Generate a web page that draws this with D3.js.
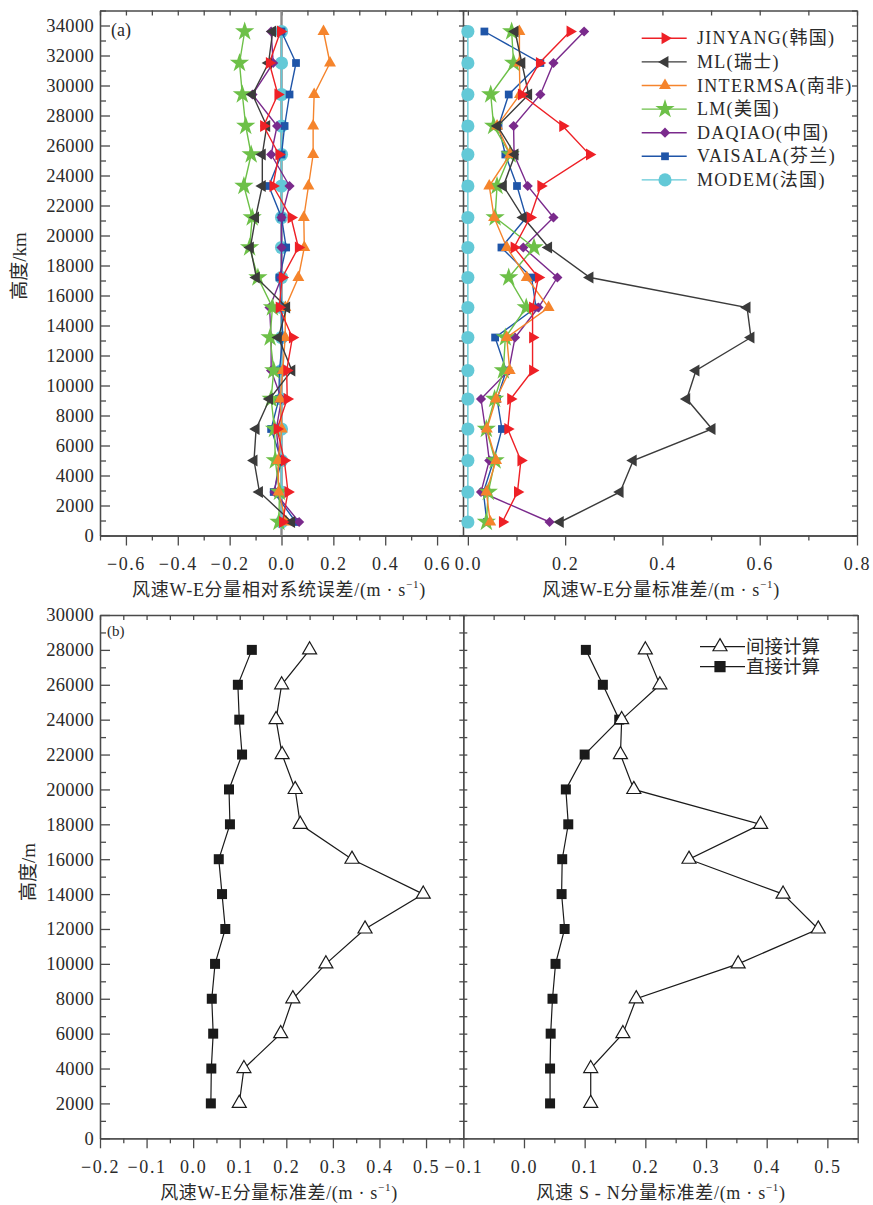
<!DOCTYPE html>
<html>
<head>
<meta charset="utf-8">
<script src="https://cdn.jsdelivr.net/npm/d3@7"></script>
<style>
  body { margin: 0; background: #fff; }
  text { font-family: "Liberation Serif", "Noto Sans CJK SC", serif; fill: #2a2a2a; }
</style>
</head>
<body>
<svg id="chart" width="873" height="1205"></svg>
<script>
// ======= DATA =======

// (a) heights of the sounding levels, m
const heightsA = [900, 2900, 5000, 7100, 9100, 11000, 13200, 15200, 17200, 19200, 21200, 23300, 25400, 27300, 29400, 31500, 33600]

const sondes = ['JINYANG(韩国)', 'ML(瑞士)', 'INTERMSA(南非)', 'LM(美国)', 'DAQIAO(中国)', 'VAISALA(芬兰)', 'MODEM(法国)']

// relative systematic error of the W-E component
const relJinyang = [0.004, 0.025, 0.011, -0.017, 0.022, 0.020, 0.042, -0.009, 0.003, 0.065, 0.037, -0.033, -0.010, -0.069, -0.014, -0.047, -0.004]
const relMl = [0.039, -0.085, -0.106, -0.098, -0.046, 0.040, -0.012, 0.020, -0.097, -0.120, -0.100, -0.074, -0.074, -0.057, -0.112, -0.050, -0.034]
const relIntermsa = [0.018, -0.011, -0.013, 0.001, -0.005, 0.005, 0.014, 0.015, 0.065, 0.088, 0.086, 0.104, 0.122, 0.122, 0.126, 0.187, 0.162]
const relLm = [-0.010, -0.008, -0.024, -0.027, -0.040, -0.030, -0.044, -0.035, -0.091, -0.123, -0.113, -0.145, -0.117, -0.138, -0.151, -0.162, -0.142]
const relDaqiao = [0.068, -0.027, -0.008, -0.020, 0.000, -0.040, -0.040, -0.046, 0.000, 0.000, 0.000, 0.031, -0.040, -0.017, -0.112, -0.032, -0.040]
const relVaisala = [0.055, -0.030, 0.000, -0.040, -0.010, -0.008, 0.005, 0.000, -0.008, 0.018, 0.000, -0.049, 0.000, 0.012, 0.031, 0.056, 0.000]
const relModem = [0, 0, 0, 0, 0, 0, 0, 0, 0, 0, 0, 0, 0, 0, 0, 0, 0]

// standard deviation of the W-E component
const stdJinyang = [0.071, 0.102, 0.109, 0.082, 0.088, 0.133, 0.133, 0.133, 0.145, 0.095, 0.128, 0.150, 0.250, 0.195, 0.110, 0.147, 0.210]
const stdMl = [0.190, 0.313, 0.340, 0.502, 0.450, 0.469, 0.582, 0.574, 0.251, 0.166, 0.114, 0.073, 0.097, 0.061, 0.125, 0.111, 0.097]
const stdIntermsa = [0.046, 0.038, 0.058, 0.039, 0.058, 0.086, 0.080, 0.166, 0.121, 0.080, 0.054, 0.044, 0.087, 0.060, 0.107, 0.106, 0.106]
const stdLm = [0.038, 0.042, 0.056, 0.038, 0.055, 0.073, 0.077, 0.120, 0.084, 0.136, 0.056, 0.060, 0.087, 0.053, 0.047, 0.094, 0.090]
const stdDaqiao = [0.168, 0.027, 0.044, 0.036, 0.027, 0.084, 0.097, 0.145, 0.184, 0.114, 0.176, 0.123, 0.095, 0.094, 0.149, 0.176, 0.239]
const stdVaisala = [0.039, 0.032, 0.053, 0.070, 0.060, 0.079, 0.056, 0.140, 0.131, 0.069, 0.120, 0.101, 0.077, 0.063, 0.084, 0.149, 0.034]
const stdModem = [0, 0, 0, 0, 0, 0, 0, 0, 0, 0, 0, 0, 0, 0, 0, 0, 0]

// (b) heights, m
const heightsB = [2000, 4000, 6000, 8000, 10000, 12000, 14000, 16000, 18000, 20000, 22000, 24000, 26000, 28000]
const methods = ['间接计算', '直接计算']

const weIndirect = [0.099, 0.109, 0.188, 0.214, 0.285, 0.369, 0.494, 0.341, 0.230, 0.219, 0.191, 0.178, 0.190, 0.250]
const weDirect = [0.038, 0.039, 0.043, 0.040, 0.047, 0.069, 0.062, 0.055, 0.079, 0.077, 0.105, 0.099, 0.096, 0.126]
const snIndirect = [0.110, 0.110, 0.163, 0.185, 0.353, 0.485, 0.427, 0.272, 0.390, 0.181, 0.159, 0.161, 0.224, 0.200]
const snDirect = [0.043, 0.043, 0.044, 0.047, 0.052, 0.067, 0.062, 0.063, 0.073, 0.069, 0.100, 0.157, 0.130, 0.102]

// tick values
const relTicks = [-0.6, -0.4, -0.2, 0, 0.2, 0.4, 0.6]
const relMinor = [-0.7, -0.5, -0.3, -0.1, 0.1, 0.3, 0.5]
const stdTicks = [0, 0.2, 0.4, 0.6, 0.8]
const stdMinor = [0.1, 0.3, 0.5, 0.7]
const weTicks = [-0.2, -0.1, 0, 0.1, 0.2, 0.3, 0.4, 0.5]
const weMinor = [-0.15, -0.05, 0.05, 0.15, 0.25, 0.35, 0.45, 0.55]
const snTicks = [-0.1, 0, 0.1, 0.2, 0.3, 0.4, 0.5]
const snMinor = [-0.05, 0.05, 0.15, 0.25, 0.35, 0.45, 0.55]

// ======= SETUP =======

const svg = d3.select('#chart')
const frameColor = '#4a4a4a'
const colors = ['#ee2026', '#3b3b3b', '#f5842c', '#6dc048', '#7a2a8c', '#1f55a8', '#63c9d7']

// symbol for each sonde: type, size, rotation
const marks = [
  { type: d3.symbolTriangle, size: 62, rot: 90 },
  { type: d3.symbolTriangle, size: 62, rot: -90 },
  { type: d3.symbolTriangle, size: 62, rot: 0 },
  { type: d3.symbolStar, size: 115, rot: 0 },
  { type: d3.symbolSquare, size: 52, rot: 45 },
  { type: d3.symbolSquare, size: 60, rot: 0 },
  { type: d3.symbolCircle, size: 135, rot: 0 }
]

const yA = d3.scaleLinear().domain([0, 35000]).range([535.5, 10.5])
const xRel = d3.scaleLinear().domain([-0.7, 0.7]).range([100, 463])
const xStd = d3.scaleLinear().domain([-0.01, 0.8]).range([463, 857])

const yB = d3.scaleLinear().domain([0, 30000]).range([1138.3, 615])
const xWe = d3.scaleLinear().domain([-0.2, 0.58]).range([100, 463.3])
const xSn = d3.scaleLinear().domain([-0.1, 0.55]).range([463.3, 857.7])

const fmt = d3.format('.1f')

function styleAxis (g) {
  g.selectAll('path, line').attr('stroke', frameColor).attr('stroke-width', 1.3)
  g.selectAll('text').attr('fill', '#2a2a2a')
}

// frame + axes for one panel
function panel (x, y, major, minor, yStep, top, left) {
  const [x0, x1] = x.range()
  const [yb, yt] = y.range()
  const yMax = y.domain()[1]
  const yMajor = d3.range(0, yMax + 1, yStep)
  const yMinor = d3.range(yStep / 2, yMax + 1, yStep)
  const ySmall = d3.range(0, yMax + 1, yStep / 2)

  // bottom
  svg.append('g')
    .attr('transform', `translate(0, ${yb})`)
    .call(d3.axisBottom(x).tickValues(major).tickSize(10).tickSizeOuter(0).tickPadding(12).tickFormat(fmt))
    .call(styleAxis)
    .call(g => g.selectAll('text').attr('font-size', 18).attr('letter-spacing', 1.6))
  svg.append('g')
    .attr('transform', `translate(0, ${yb})`)
    .call(d3.axisBottom(x).tickValues(minor).tickSize(5).tickSizeOuter(0).tickFormat(''))
    .call(styleAxis)

  // top edge, short inward ticks
  svg.append('g')
    .attr('transform', `translate(0, ${yt})`)
    .call(d3.axisTop(x).tickValues(top).tickSize(-5).tickSizeOuter(0).tickFormat(''))
    .call(styleAxis)

  if (left) {
    svg.append('g')
      .attr('transform', `translate(${x0}, 0)`)
      .call(d3.axisLeft(y).tickValues(yMajor).tickSize(-10).tickSizeOuter(0).tickPadding(6).tickFormat(d3.format('d')))
      .call(styleAxis)
      .call(g => g.selectAll('text').attr('font-size', 18.5).attr('letter-spacing', 0.3))
    svg.append('g')
      .attr('transform', `translate(${x0}, 0)`)
      .call(d3.axisLeft(y).tickValues(yMinor).tickSize(-6).tickSizeOuter(0).tickFormat(''))
      .call(styleAxis)
  } else {
    // shared divider, small ticks on both sides
    svg.append('g')
      .attr('transform', `translate(${x0}, 0)`)
      .call(d3.axisLeft(y).tickValues(ySmall).tickSize(4).tickSizeOuter(0).tickFormat(''))
      .call(styleAxis)
    svg.append('g')
      .attr('transform', `translate(${x0}, 0)`)
      .call(d3.axisRight(y).tickValues(ySmall).tickSize(4).tickSizeOuter(0).tickFormat(''))
      .call(styleAxis)
    svg.append('g')
      .attr('transform', `translate(${x1}, 0)`)
      .call(d3.axisRight(y).tickValues(ySmall).tickSize(-5).tickSizeOuter(0).tickFormat(''))
      .call(styleAxis)
  }
}

function series (x, y, hs, vals, color, m, fill, width) {
  const pts = hs.map((h, i) => ({ h, v: vals[i] }))
  const line = d3.line().x(d => x(d.v)).y(d => y(d.h))
  svg.append('path')
    .datum(pts)
    .attr('d', line)
    .attr('fill', 'none')
    .attr('stroke', color)
    .attr('stroke-width', width || 1.4)
  svg.append('g')
    .selectAll('path')
    .data(pts)
    .enter()
    .append('path')
      .attr('d', d3.symbol().type(m.type).size(m.size))
      .attr('transform', d => `translate(${x(d.v)}, ${y(d.h)}) rotate(${m.rot})`)
      .attr('fill', fill || color)
      .attr('stroke', fill ? color : 'none')
      .attr('stroke-width', 1.2)
}

function title (x, y, text) {
  const t = svg.append('text')
    .attr('x', x).attr('y', y)
    .attr('text-anchor', 'middle')
    .attr('dominant-baseline', 'central')
    .attr('font-size', 18)
    .attr('letter-spacing', 0.7)
  t.append('tspan').text(text + '/(m · s')
  t.append('tspan').attr('font-size', 11).attr('dy', -6).text('−1')
  t.append('tspan').attr('dy', 6).text(')')
}

function yTitle (x, y, text) {
  svg.append('text')
    .attr('transform', `translate(${x}, ${y}) rotate(-90)`)
    .attr('text-anchor', 'middle')
    .attr('dominant-baseline', 'central')
    .attr('font-size', 19)
    .text(text)
}

// ======= (a) =======

panel(xRel, yA, relTicks, relMinor, 2000, d3.range(-0.7, 0.71, 0.1), true)
panel(xStd, yA, stdTicks, stdMinor, 2000, d3.range(0, 0.81, 0.1), false)

// zero line of the left panel
svg.append('line')
  .attr('x1', xRel(0)).attr('x2', xRel(0))
  .attr('y1', yA(35000)).attr('y2', yA(0))
  .attr('stroke', '#8a8a8a')
  .attr('stroke-width', 2.4)

const relSeries = [relJinyang, relMl, relIntermsa, relLm, relDaqiao, relVaisala, relModem]
const stdSeries = [stdJinyang, stdMl, stdIntermsa, stdLm, stdDaqiao, stdVaisala, stdModem]

// draw MODEM first, JINYANG on top
for (let i = sondes.length - 1; i >= 0; i--) {
  series(xRel, yA, heightsA, relSeries[i], colors[i], marks[i])
  series(xStd, yA, heightsA, stdSeries[i], colors[i], marks[i])
}

// legend
sondes.forEach((name, i) => {
  const ly = 38.3 + i * 23.6
  svg.append('line')
    .attr('x1', 641.7).attr('x2', 686.7)
    .attr('y1', ly).attr('y2', ly)
    .attr('stroke', colors[i]).attr('stroke-width', 1.4)
  svg.append('path')
    .attr('d', d3.symbol().type(marks[i].type).size(marks[i].size))
    .attr('transform', `translate(665, ${ly}) rotate(${marks[i].rot})`)
    .attr('fill', colors[i])
  svg.append('text')
    .attr('x', 697).attr('y', ly)
    .attr('dominant-baseline', 'central')
    .attr('font-size', 18)
    .attr('letter-spacing', 1.3)
    .text(name)
})

svg.append('text').attr('x', 111).attr('y', 30)
  .attr('dominant-baseline', 'central').attr('font-size', 18).text('(a)')

title(279, 590, '风速W-E分量相对系统误差')
title(661, 590, '风速W-E分量标准差')
yTitle(19, 266, '高度/km')

// ======= (b) =======

panel(xWe, yB, weTicks, weMinor, 2000, d3.range(-0.2, 0.58, 0.05), true)
panel(xSn, yB, snTicks, snMinor, 2000, d3.range(-0.1, 0.551, 0.05), false)

const square = { type: d3.symbolSquare, size: 100, rot: 0 }
const triangle = { type: d3.symbolTriangle, size: 85, rot: 0 }

series(xWe, yB, heightsB, weDirect, '#1a1a1a', square, null, 1.2)
series(xWe, yB, heightsB, weIndirect, '#1a1a1a', triangle, '#fff', 1.2)
series(xSn, yB, heightsB, snDirect, '#1a1a1a', square, null, 1.2)
series(xSn, yB, heightsB, snIndirect, '#1a1a1a', triangle, '#fff', 1.2)

// legend
const legendMarks = [triangle, square]
methods.forEach((name, i) => {
  const ly = 646.7 + i * 20
  svg.append('line')
    .attr('x1', 700).attr('x2', 745)
    .attr('y1', ly).attr('y2', ly)
    .attr('stroke', '#1a1a1a').attr('stroke-width', 1.2)
  svg.append('path')
    .attr('d', d3.symbol().type(legendMarks[i].type).size(legendMarks[i].size))
    .attr('transform', `translate(720, ${ly})`)
    .attr('fill', i === 0 ? '#fff' : '#1a1a1a')
    .attr('stroke', '#1a1a1a').attr('stroke-width', 1.2)
  svg.append('text')
    .attr('x', 746).attr('y', ly)
    .attr('dominant-baseline', 'central')
    .attr('font-size', 18.5)
    .text(name)
})

svg.append('text').attr('x', 107).attr('y', 631)
  .attr('dominant-baseline', 'central').attr('font-size', 15).text('(b)')

title(279, 1193, '风速W-E分量标准差')
title(661, 1193, '风速 S - N分量标准差')
yTitle(28, 872, '高度/m')
</script>
</body>
</html>
